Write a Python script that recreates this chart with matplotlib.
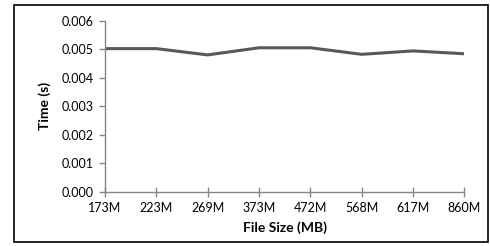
import matplotlib
matplotlib.use("Agg")
import matplotlib.pyplot as plt
from matplotlib.patches import Rectangle

categories = ["173M", "223M", "269M", "373M", "472M", "568M", "617M", "860M"]
times = [0.00502, 0.00502, 0.00480, 0.00505, 0.00505, 0.00482, 0.00494, 0.00484]
yticks = [0.000, 0.001, 0.002, 0.003, 0.004, 0.005, 0.006]

plt.rcParams['font.family'] = ['Lato', 'DejaVu Sans']

W, H = 490, 246
fig = plt.figure(figsize=(W/100, H/100), dpi=100)
ax = fig.add_axes([105/W, 1-191.7/H, (464.3-105)/W, (191.7-20.7)/H])

x = list(range(len(categories)))
ax.plot(x, times, color="#595959", lw=2.2, solid_capstyle='butt', solid_joinstyle='round')
ax.set_xlim(0, len(categories)-1)
ax.set_ylim(0, 0.006)
ax.set_xticks(x)
ax.set_xticklabels(categories)
ax.set_yticks(yticks)
ax.set_yticklabels([f"{v:.3f}" for v in yticks])
axc = "#868686"
for s in ["top", "right"]:
    ax.spines[s].set_visible(False)
for s in ["left", "bottom"]:
    ax.spines[s].set_color(axc)
    ax.spines[s].set_linewidth(1.0)
ax.tick_params(axis='y', direction='out', length=4, width=1, color=axc, labelsize=9, pad=4)
ax.tick_params(axis='x', direction='inout', length=7, width=1, color=axc, labelsize=9, pad=4)
ax.set_xlabel("File Size (MB)", fontsize=10, fontweight='bold', labelpad=5)
ax.set_ylabel("Time (s)", fontsize=10, fontweight='bold', labelpad=8)
ax.patch.set_alpha(0)

fig.patches.append(Rectangle((14/W, 1-241.7/H), (487.7-14)/W, (241.7-4.7)/H,
                             transform=fig.transFigure, fill=False, ec="black", lw=1.2))
fig.savefig("out.png", dpi=100)
